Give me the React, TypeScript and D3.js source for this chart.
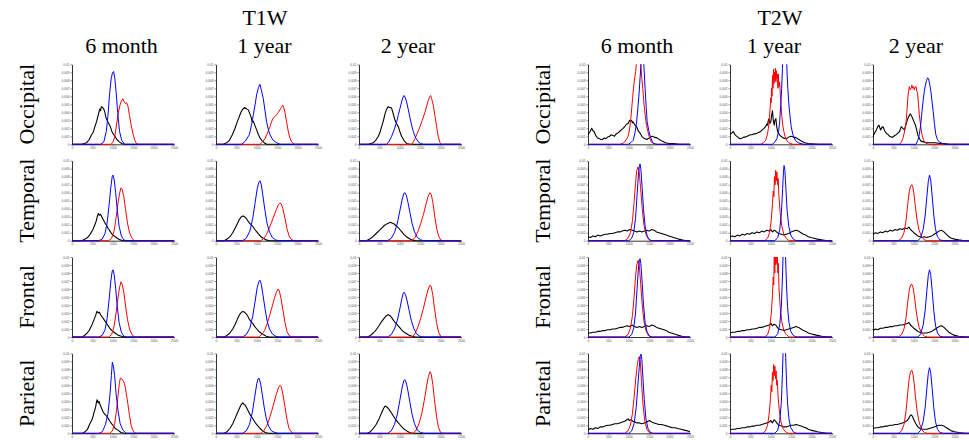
import React, { useEffect, useRef } from "react";
import * as d3 from "d3";

type Pt = [number, number];
type Panel = { black: Pt[]; blue: Pt[]; red: Pt[] };

const modalities = ["T1W", "T2W"];
const ages = ["6 month", "1 year", "2 year"];
const regions = ["Occipital", "Temporal", "Frontal", "Parietal"];
const xTicks = [0, 500, 1000, 1500, 2000, 2500];
const yTicks = [0, 0.001, 0.002, 0.003, 0.004, 0.005, 0.006, 0.007, 0.008, 0.009, 0.01];

// intensity, density x 1e4
const t1Occ6m: Panel = {
  black: [[0,0],[230,0],[300,1],[360,2],[420,6],[480,12],[520,15],[560,22],[600,28],[640,36],[680,44],[700,42],[720,47],[750,46],[780,44],[800,41],[830,34],[850,31],[880,28],[910,25],[940,22],[970,17],[1010,13],[1050,10],[1100,6],[1160,3],[1220,1],[1290,0],[2500,0]],
  blue: [[0,0],[700,0],[780,3],[840,16],[880,35],[920,62],[960,82],[990,89],[1020,91],[1050,82],[1080,66],[1120,40],[1165,16],[1220,5],[1290,0],[2500,0]],
  red: [[0,0],[950,0],[1000,2],[1050,10],[1090,24],[1130,38],[1170,48],[1210,54],[1245,57],[1280,53],[1310,51],[1340,52],[1370,48],[1410,36],[1450,24],[1500,12],[1540,5],[1580,1],[1620,0],[2500,0]],
};
const t1Occ1y: Panel = {
  black: [[0,0],[180,0],[260,2],[330,5],[400,12],[466,20],[520,28],[560,33],[588,37],[620,41],[660,44],[700,46],[730,45],[760,44],[792,43],[830,38],[860,34],[890,28],[915,29],[950,24],[996,18],[1040,12],[1080,8],[1119,5],[1180,2],[1241,0],[2500,0]],
  blue: [[0,0],[629,0],[720,4],[817,12],[870,24],[915,37],[960,50],[996,62],[1040,71],[1078,75],[1110,68],[1160,57],[1200,42],[1241,28],[1280,19],[1323,12],[1400,5],[1486,2],[1568,0],[2500,0]],
  red: [[0,0],[1078,0],[1140,3],[1200,7],[1260,14],[1323,22],[1360,28],[1405,33],[1450,35],[1486,37],[1530,40],[1568,43],[1600,46],[1633,49],[1660,46],[1690,40],[1730,28],[1772,16],[1810,8],[1854,3],[1900,1],[1935,0],[2500,0]],
};
const t1Occ2y: Panel = {
  black: [[0,0],[229,0],[290,1],[351,2],[410,5],[474,10],[515,15],[555,22],[600,30],[637,38],[670,43],[700,46],[719,47],[750,46],[780,46],[800,45],[840,38],[882,30],[920,26],[964,22],[1000,16],[1045,10],[1100,5],[1168,1],[1250,0],[2500,0]],
  blue: [[0,0],[678,0],[740,4],[800,10],[860,18],[923,28],[965,37],[1005,45],[1050,54],[1080,59],[1103,61],[1130,59],[1168,53],[1210,43],[1250,33],[1290,24],[1331,16],[1390,8],[1454,3],[1510,1],[1576,0],[2500,0]],
  red: [[0,0],[1290,0],[1330,3],[1372,7],[1430,14],[1495,22],[1550,30],[1617,40],[1660,48],[1699,55],[1730,59],[1756,61],[1780,57],[1821,49],[1860,36],[1903,22],[1940,10],[1985,2],[2025,0],[2500,0]],
};
const t1Tem6m: Panel = {
  black: [[0,0],[250,0],[320,2],[380,4],[430,7],[480,11],[520,15],[560,20],[590,24],[620,30],[645,34],[670,32],[700,33],[730,30],[770,26],[810,22],[850,19],[890,15],[930,12],[970,9],[1010,7],[1060,5],[1110,3],[1180,1],[1260,0],[2500,0]],
  blue: [[0,0],[650,0],[740,2],[810,9],[860,22],[910,45],[950,66],[985,80],[1005,82],[1035,76],[1070,60],[1110,38],[1155,18],[1210,6],[1270,1],[1330,0],[2500,0]],
  red: [[0,0],[900,0],[970,3],[1030,12],[1080,28],[1130,48],[1170,60],[1200,66],[1230,64],[1270,55],[1310,40],[1360,22],[1410,10],[1470,3],[1530,0],[2500,0]],
};
const t1Tem1y: Panel = {
  black: [[0,0],[200,0],[270,2],[340,5],[410,10],[470,16],[530,22],[580,27],[620,30],[660,31],[700,30],[740,28],[780,25],[820,22],[860,20],[900,18],[950,14],[1000,11],[1050,8],[1100,5],[1160,3],[1230,1],[1300,0],[2500,0]],
  blue: [[0,0],[650,0],[740,3],[830,12],[900,28],[960,48],[1010,65],[1050,73],[1078,75],[1110,70],[1150,56],[1200,38],[1250,22],[1310,11],[1380,4],[1460,1],[1540,0],[2500,0]],
  red: [[0,0],[1100,0],[1170,3],[1240,8],[1300,15],[1360,23],[1420,31],[1480,39],[1530,45],[1568,47],[1600,46],[1640,40],[1690,28],[1740,15],[1790,6],[1840,2],[1900,0],[2500,0]],
};
const t1Tem2y: Panel = {
  black: [[0,0],[180,0],[260,2],[340,5],[420,9],[500,13],[560,16],[620,19],[680,21],[730,22],[770,23],[810,22],[860,21],[900,19],[950,17],[1000,14],[1050,11],[1100,8],[1160,5],[1220,3],[1290,1],[1380,0],[2500,0]],
  blue: [[0,0],[700,0],[790,3],[870,10],[940,22],[1000,37],[1060,52],[1100,59],[1127,60],[1160,57],[1200,48],[1250,35],[1300,22],[1360,11],[1430,4],[1510,1],[1590,0],[2500,0]],
  red: [[0,0],[1300,0],[1370,4],[1440,11],[1510,21],[1580,33],[1640,45],[1690,55],[1740,60],[1770,58],[1810,48],[1850,33],[1900,16],[1950,6],[2000,1],[2050,0],[2500,0]],
};
const t1Fro6m: Panel = {
  black: [[0,0],[240,0],[310,2],[370,5],[420,8],[470,13],[510,18],[550,23],[580,27],[610,32],[640,30],[670,31],[700,28],[740,25],[780,22],[820,19],[860,16],[900,13],[940,10],[980,8],[1030,6],[1080,4],[1140,2],[1210,1],[1280,0],[2500,0]],
  blue: [[0,0],[650,0],[740,2],[810,9],[860,23],[910,47],[950,69],[985,82],[1005,84],[1035,78],[1070,61],[1110,38],[1155,18],[1210,6],[1270,1],[1330,0],[2500,0]],
  red: [[0,0],[900,0],[970,3],[1030,13],[1080,30],[1130,50],[1170,63],[1200,69],[1230,66],[1270,56],[1310,40],[1360,22],[1410,10],[1470,3],[1530,0],[2500,0]],
};
const t1Fro1y: Panel = {
  black: [[0,0],[200,0],[270,2],[340,5],[410,10],[470,16],[530,23],[580,28],[620,31],[660,32],[700,31],[740,29],[780,26],[820,22],[860,19],[900,17],[950,13],[1000,10],[1050,7],[1100,5],[1160,3],[1230,1],[1300,0],[2500,0]],
  blue: [[0,0],[650,0],[740,3],[830,11],[900,26],[960,45],[1010,62],[1050,69],[1078,71],[1110,66],[1150,53],[1200,36],[1250,21],[1310,10],[1380,4],[1460,1],[1540,0],[2500,0]],
  red: [[0,0],[1050,0],[1120,3],[1190,8],[1250,16],[1310,26],[1370,37],[1430,48],[1480,56],[1520,60],[1550,58],[1590,49],[1640,34],[1690,18],[1740,7],[1790,2],[1850,0],[2500,0]],
};
const t1Fro2y: Panel = {
  black: [[0,0],[200,0],[280,2],[350,5],[420,9],[490,14],[550,19],[610,23],[660,26],[710,28],[750,27],[790,25],[830,22],[870,19],[910,17],[960,14],[1010,11],[1060,8],[1110,6],[1170,4],[1230,2],[1300,1],[1380,0],[2500,0]],
  blue: [[0,0],[700,0],[790,3],[870,10],[940,21],[1000,35],[1050,48],[1080,54],[1103,56],[1140,53],[1180,45],[1230,33],[1280,21],[1340,11],[1410,4],[1490,1],[1570,0],[2500,0]],
  red: [[0,0],[1300,0],[1370,4],[1440,12],[1510,23],[1580,36],[1640,49],[1690,59],[1740,65],[1770,63],[1810,52],[1850,36],[1900,18],[1950,6],[2000,1],[2050,0],[2500,0]],
};
const t1Par6m: Panel = {
  black: [[0,0],[260,0],[320,2],[380,5],[437,12],[480,16],[510,20],[540,26],[559,29],[580,33],[600,39],[615,42],[640,38],[660,40],[680,37],[720,32],[761,27],[800,24],[840,22],[883,19],[930,15],[970,12],[1004,10],[1060,6],[1126,4],[1200,1],[1280,0],[2500,0]],
  blue: [[0,0],[650,0],[720,1],[761,4],[820,11],[883,25],[930,48],[965,72],[989,89],[1015,84],[1045,72],[1080,50],[1126,29],[1180,12],[1248,4],[1329,0],[2500,0]],
  red: [[0,0],[924,0],[990,3],[1045,12],[1090,28],[1126,46],[1160,62],[1183,69],[1220,68],[1260,65],[1288,62],[1330,50],[1369,37],[1410,22],[1450,10],[1490,4],[1531,1],[1580,0],[2500,0]],
};
const t1Par1y: Panel = {
  black: [[0,0],[200,0],[270,2],[340,6],[410,12],[470,19],[530,26],[580,32],[620,36],[660,38],[690,36],[720,35],[760,31],[800,27],[840,23],[880,20],[930,16],[980,12],[1030,9],[1080,6],[1140,3],[1210,1],[1290,0],[2500,0]],
  blue: [[0,0],[650,0],[740,3],[820,11],[890,26],[950,46],[1000,62],[1030,68],[1054,69],[1090,63],[1130,50],[1180,33],[1230,19],[1290,9],[1360,3],[1440,1],[1520,0],[2500,0]],
  red: [[0,0],[1100,0],[1170,3],[1240,9],[1300,17],[1360,27],[1420,38],[1480,49],[1530,57],[1568,60],[1600,58],[1640,49],[1690,33],[1740,17],[1790,6],[1840,2],[1900,0],[2500,0]],
};
const t1Par2y: Panel = {
  black: [[0,0],[200,0],[280,2],[350,6],[420,11],[490,18],[550,25],[600,31],[640,34],[680,33],[720,31],[760,28],[800,25],[850,21],[900,17],[950,14],[1000,11],[1050,8],[1110,5],[1170,3],[1240,1],[1320,0],[2500,0]],
  blue: [[0,0],[700,0],[790,3],[870,11],[940,24],[1000,41],[1060,58],[1100,66],[1127,67],[1160,63],[1200,53],[1250,38],[1300,24],[1360,12],[1430,4],[1510,1],[1590,0],[2500,0]],
  red: [[0,0],[1330,0],[1400,4],[1470,12],[1540,25],[1600,41],[1650,57],[1700,71],[1740,77],[1770,74],[1810,61],[1850,42],[1900,21],[1950,7],[2000,1],[2050,0],[2500,0]],
};

const t2Occ6m: Panel = {
  black: [[0,12],[50,16],[92,20],[120,17],[150,16],[190,11],[233,8],[280,7],[320,6],[358,6],[400,8],[440,7],[483,9],[530,10],[567,12],[610,11],[650,10],[690,13],[733,14],[775,16],[817,18],[860,20],[900,22],[940,25],[983,26],[1020,30],[1050,29],[1067,30],[1090,27],[1108,28],[1150,24],[1192,22],[1230,17],[1275,14],[1320,10],[1358,8],[1400,7],[1442,6],[1500,8],[1567,10],[1620,9],[1692,8],[1750,6],[1817,4],[1900,2],[1983,1],[2100,1],[2233,0],[2500,0]],
  blue: [[0,0],[983,0],[1050,2],[1108,5],[1150,14],[1192,28],[1220,44],[1250,62],[1275,82],[1300,100],[1330,125],[1358,110],[1380,88],[1400,70],[1425,48],[1450,28],[1490,17],[1525,10],[1570,4],[1608,1],[1692,0],[2500,0]],
  red: [[0,0],[775,0],[850,1],[900,3],[950,7],[983,10],[1015,18],[1042,28],[1070,44],[1092,57],[1115,70],[1133,78],[1150,85],[1167,91],[1185,100],[1208,112],[1240,118],[1270,110],[1300,95],[1320,82],[1342,70],[1370,52],[1400,37],[1430,25],[1467,16],[1510,8],[1550,3],[1600,1],[1650,0],[2500,0]],
};
const t2Occ1y: Panel = {
  black: [[0,12],[40,14],[83,16],[120,12],[167,10],[210,8],[250,7],[300,8],[340,9],[375,9],[420,10],[460,11],[500,12],[540,12],[580,13],[625,13],[670,14],[710,15],[750,16],[790,18],[833,20],[870,22],[900,25],[917,24],[940,30],[958,32],[975,26],[1000,28],[1020,36],[1042,42],[1060,30],[1083,24],[1100,30],[1125,32],[1145,22],[1167,16],[1210,12],[1250,10],[1300,8],[1375,7],[1440,9],[1500,10],[1560,9],[1625,8],[1690,6],[1750,4],[1830,2],[1917,1],[2167,0],[2500,0]],
  blue: [[0,0],[1042,0],[1100,3],[1150,7],[1190,16],[1217,28],[1245,50],[1267,70],[1285,95],[1300,115],[1340,130],[1383,112],[1400,88],[1417,70],[1440,52],[1467,37],[1500,22],[1542,12],[1600,5],[1667,2],[1792,0],[2500,0]],
  red: [[0,0],[750,0],[820,2],[875,5],[915,12],[942,20],[965,32],[983,45],[1000,58],[1010,52],[1017,70],[1030,60],[1042,86],[1055,70],[1067,94],[1080,76],[1092,90],[1100,80],[1112,95],[1125,78],[1137,92],[1150,82],[1163,88],[1175,70],[1183,88],[1200,72],[1217,78],[1235,62],[1250,49],[1270,35],[1292,24],[1320,16],[1350,10],[1390,5],[1433,2],[1542,0],[2500,0]],
};
const t2Occ2y: Panel = {
  black: [[0,10],[40,14],[82,18],[115,22],[147,24],[170,20],[188,18],[215,21],[245,22],[285,17],[326,14],[370,12],[407,10],[450,9],[488,9],[530,11],[569,12],[610,14],[651,16],[670,19],[691,22],[730,20],[772,18],[810,25],[853,32],[880,35],[910,38],[940,36],[975,32],[1005,28],[1040,24],[1070,18],[1096,12],[1140,7],[1177,4],[1240,3],[1300,2],[1380,2],[1462,2],[1540,2],[1624,1],[1750,1],[1867,0],[2500,0]],
  blue: [[0,0],[1054,0],[1100,5],[1135,12],[1170,25],[1200,41],[1230,55],[1257,66],[1285,74],[1313,80],[1340,83],[1362,82],[1390,75],[1419,66],[1445,54],[1475,41],[1505,26],[1540,12],[1580,6],[1621,3],[1700,1],[1783,0],[2500,0]],
  red: [[0,0],[649,0],[700,3],[730,7],[770,15],[811,28],[830,40],[852,57],[870,66],[892,72],[912,68],[933,70],[953,74],[973,70],[990,72],[1014,68],[1034,72],[1054,72],[1075,66],[1094,64],[1115,50],[1135,37],[1165,24],[1200,12],[1240,5],[1280,2],[1378,0],[2500,0]],
};
const t2Tem6m: Panel = {
  black: [[0,5],[60,4],[120,6],[180,5],[240,7],[300,6],[360,7],[420,8],[480,8],[540,9],[600,9],[660,10],[720,11],[780,11],[840,12],[900,13],[960,12],[1020,14],[1080,13],[1140,12],[1200,11],[1260,12],[1320,11],[1380,12],[1440,13],[1500,12],[1560,14],[1620,13],[1680,11],[1740,10],[1800,9],[1860,8],[1920,7],[1980,6],[2040,5],[2100,4],[2160,3],[2220,2],[2300,1],[2400,0],[2500,0]],
  blue: [[0,0],[1000,0],[1070,3],[1120,10],[1165,28],[1200,55],[1235,82],[1260,94],[1275,96],[1295,90],[1325,68],[1360,40],[1400,18],[1450,6],[1510,1],[1580,0],[2500,0]],
  red: [[0,0],[900,0],[980,3],[1040,10],[1090,25],[1130,48],[1165,72],[1195,88],[1225,92],[1255,86],[1290,65],[1330,40],[1370,20],[1420,8],[1480,2],[1540,0],[2500,0]],
};
const t2Tem1y: Panel = {
  black: [[0,5],[60,6],[120,5],[180,7],[240,6],[300,8],[360,7],[420,9],[480,8],[540,10],[600,9],[660,11],[720,10],[780,12],[840,11],[900,13],[960,12],[1000,14],[1040,11],[1080,13],[1120,12],[1160,10],[1200,9],[1260,8],[1320,7],[1380,8],[1440,9],[1500,11],[1560,12],[1620,13],[1680,12],[1740,10],[1800,8],[1860,7],[1920,5],[1980,4],[2060,3],[2140,2],[2250,1],[2380,0],[2500,0]],
  blue: [[0,0],[1100,0],[1170,4],[1220,14],[1260,35],[1290,65],[1310,86],[1325,94],[1345,88],[1370,65],[1400,38],[1440,18],[1490,7],[1550,2],[1620,0],[2500,0]],
  red: [[0,0],[850,0],[920,3],[970,10],[1010,25],[1040,45],[1060,62],[1075,55],[1090,80],[1105,70],[1120,88],[1135,75],[1150,86],[1165,70],[1180,78],[1200,55],[1230,35],[1270,18],[1320,8],[1380,3],[1450,0],[2500,0]],
};
const t2Tem2y: Panel = {
  black: [[0,8],[60,10],[120,9],[180,11],[240,10],[300,12],[360,11],[420,13],[480,12],[540,14],[600,13],[660,15],[720,14],[780,16],[840,15],[880,17],[920,14],[960,12],[1000,10],[1050,8],[1100,6],[1150,5],[1200,4],[1260,5],[1320,4],[1380,5],[1440,6],[1500,8],[1560,10],[1620,12],[1680,13],[1740,11],[1800,8],[1860,5],[1920,3],[2000,2],[2100,1],[2250,0],[2500,0]],
  blue: [[0,0],[1100,0],[1170,4],[1230,14],[1280,32],[1320,55],[1355,74],[1385,82],[1415,76],[1450,56],[1490,32],[1530,15],[1580,5],[1640,1],[1720,0],[2500,0]],
  red: [[0,0],[620,0],[700,3],[760,10],[810,25],[850,45],[890,62],[920,68],[950,70],[980,66],[1010,56],[1040,42],[1080,26],[1130,13],[1190,5],[1260,1],[1330,0],[2500,0]],
};
const t2Fro6m: Panel = {
  black: [[0,5],[60,5],[120,6],[180,6],[240,7],[300,7],[360,8],[420,8],[480,9],[540,9],[600,10],[660,10],[720,11],[780,12],[840,12],[900,13],[960,14],[1020,13],[1080,15],[1140,13],[1200,12],[1260,13],[1320,12],[1380,13],[1440,14],[1500,13],[1560,15],[1620,14],[1680,12],[1740,11],[1800,10],[1860,9],[1920,8],[1980,6],[2040,5],[2100,4],[2160,3],[2220,2],[2300,1],[2400,0],[2500,0]],
  blue: [[0,0],[1000,0],[1070,3],[1120,11],[1165,30],[1200,58],[1235,85],[1260,96],[1275,98],[1295,92],[1325,70],[1360,41],[1400,18],[1450,6],[1510,1],[1580,0],[2500,0]],
  red: [[0,0],[900,0],[980,3],[1040,11],[1090,27],[1130,50],[1165,75],[1195,90],[1230,96],[1260,88],[1290,67],[1330,40],[1370,20],[1420,8],[1480,2],[1540,0],[2500,0]],
};
const t2Fro1y: Panel = {
  black: [[0,5],[60,6],[120,6],[180,7],[240,7],[300,8],[360,8],[420,9],[480,9],[540,10],[600,10],[660,11],[720,12],[780,12],[840,13],[900,14],[960,15],[1000,17],[1040,14],[1080,16],[1120,15],[1160,12],[1200,10],[1260,9],[1320,8],[1380,9],[1440,10],[1500,11],[1560,12],[1620,13],[1680,12],[1740,10],[1800,8],[1860,7],[1920,5],[1980,4],[2060,3],[2140,2],[2250,1],[2380,0],[2500,0]],
  blue: [[0,0],[1100,0],[1170,4],[1220,16],[1260,40],[1285,75],[1300,100],[1320,125],[1345,118],[1365,95],[1385,65],[1410,38],[1445,18],[1490,7],[1550,2],[1620,0],[2500,0]],
  red: [[0,0],[850,0],[920,3],[970,11],[1010,28],[1040,52],[1060,75],[1072,65],[1085,100],[1098,80],[1110,115],[1122,90],[1135,120],[1148,92],[1160,108],[1172,80],[1185,92],[1200,62],[1230,38],[1270,19],[1320,8],[1380,3],[1450,0],[2500,0]],
};
const t2Fro2y: Panel = {
  black: [[0,8],[60,10],[120,9],[180,11],[240,11],[300,12],[360,12],[420,13],[480,13],[540,14],[600,14],[660,15],[720,15],[780,16],[840,17],[880,18],[920,15],[960,13],[1000,11],[1050,9],[1100,7],[1150,6],[1200,5],[1260,5],[1320,5],[1380,6],[1440,7],[1500,9],[1560,11],[1620,13],[1680,14],[1740,12],[1800,9],[1860,6],[1920,4],[2000,2],[2100,1],[2250,0],[2500,0]],
  blue: [[0,0],[1100,0],[1170,4],[1230,15],[1280,34],[1320,58],[1355,77],[1385,84],[1415,78],[1450,58],[1490,33],[1530,15],[1580,5],[1640,1],[1720,0],[2500,0]],
  red: [[0,0],[620,0],[700,3],[760,10],[810,24],[850,43],[890,59],[920,65],[950,66],[980,62],[1010,53],[1040,40],[1080,25],[1130,12],[1190,5],[1260,1],[1330,0],[2500,0]],
};
const t2Par6m: Panel = {
  black: [[0,4],[60,6],[120,5],[180,7],[240,6],[300,8],[360,8],[420,9],[480,10],[540,10],[600,11],[660,12],[720,12],[780,13],[840,14],[900,15],[950,17],[983,18],[1010,16],[1050,17],[1100,15],[1150,14],[1200,13],[1258,13],[1320,12],[1380,13],[1440,14],[1508,16],[1560,14],[1620,13],[1680,12],[1740,11],[1800,11],[1870,10],[1940,9],[2000,8],[2070,7],[2133,7],[2200,6],[2280,5],[2360,4],[2440,3],[2500,2]],
  blue: [[0,0],[1000,0],[1070,3],[1130,12],[1180,32],[1220,58],[1255,82],[1280,96],[1300,99],[1320,92],[1345,70],[1380,42],[1420,18],[1470,6],[1530,1],[1600,0],[2500,0]],
  red: [[0,0],[900,0],[980,3],[1040,10],[1090,25],[1130,45],[1170,68],[1200,82],[1230,92],[1258,96],[1285,88],[1310,65],[1345,38],[1390,16],[1440,5],[1500,1],[1560,0],[2500,0]],
};
const t2Par1y: Panel = {
  black: [[0,4],[60,5],[120,5],[180,6],[240,6],[300,7],[360,7],[420,8],[480,8],[540,9],[600,9],[660,10],[720,10],[780,11],[840,12],[900,13],[960,14],[1000,16],[1040,13],[1080,17],[1120,15],[1160,12],[1200,10],[1260,9],[1320,8],[1380,8],[1440,9],[1500,10],[1560,10],[1620,11],[1680,10],[1740,9],[1800,8],[1860,7],[1920,5],[1980,4],[2060,3],[2140,2],[2250,1],[2380,0],[2500,0]],
  blue: [[0,0],[1100,0],[1170,4],[1220,16],[1260,40],[1285,75],[1300,100],[1320,125],[1345,118],[1365,95],[1385,65],[1410,38],[1445,18],[1490,7],[1550,2],[1620,0],[2500,0]],
  red: [[0,0],[800,0],[870,3],[920,10],[960,24],[990,42],[1010,60],[1025,52],[1040,76],[1055,66],[1070,86],[1085,72],[1100,84],[1115,68],[1130,78],[1145,60],[1160,66],[1180,45],[1210,28],[1250,14],[1300,6],[1360,2],[1430,0],[2500,0]],
};
const t2Par2y: Panel = {
  black: [[0,6],[60,7],[120,7],[180,8],[240,8],[300,9],[360,9],[420,10],[480,10],[540,11],[600,11],[660,12],[720,13],[780,14],[840,16],[880,19],[910,22],[940,23],[970,21],[1000,17],[1050,12],[1100,8],[1150,6],[1200,5],[1260,5],[1320,5],[1380,6],[1440,7],[1500,8],[1560,9],[1620,10],[1680,10],[1740,9],[1800,7],[1860,5],[1920,3],[2000,2],[2100,1],[2250,0],[2500,0]],
  blue: [[0,0],[1100,0],[1170,4],[1230,15],[1280,33],[1320,56],[1355,75],[1385,82],[1415,76],[1450,56],[1490,32],[1530,15],[1580,5],[1640,1],[1720,0],[2500,0]],
  red: [[0,0],[620,0],[700,3],[760,11],[810,28],[850,50],[890,70],[920,77],[950,79],[980,74],[1010,62],[1040,46],[1080,28],[1130,14],[1190,5],[1260,1],[1330,0],[2500,0]],
};

const grid: Panel[][] = [
  [t1Occ6m, t1Occ1y, t1Occ2y, t2Occ6m, t2Occ1y, t2Occ2y],
  [t1Tem6m, t1Tem1y, t1Tem2y, t2Tem6m, t2Tem1y, t2Tem2y],
  [t1Fro6m, t1Fro1y, t1Fro2y, t2Fro6m, t2Fro1y, t2Fro2y],
  [t1Par6m, t1Par1y, t1Par2y, t2Par6m, t2Par1y, t2Par2y],
];

const W = 969;
const H = 440;
const PW = 102;
const PH = 80;
const colX = [72, 216, 359, 588, 730, 873];
const rowTop = [64.3, 160.7, 257, 353.3];
const serif = "'Liberation Serif', 'Times New Roman', serif";

function Hist({ data, x0, y0, id }: { data: Panel; x0: number; y0: number; id: string }) {
  const xRef = useRef<SVGGElement>(null);
  const yRef = useRef<SVGGElement>(null);
  const x = d3.scaleLinear().domain([0, 2500]).range([x0, x0 + PW]);
  const y = d3.scaleLinear().domain([0, 0.01]).range([y0 + PH, y0]);

  useEffect(() => {
    const gx = d3.select(xRef.current!);
    gx.call(
      d3.axisBottom(x)
        .tickValues(xTicks.filter((t) => x(t) <= W - 6))
        .tickSize(1.5).tickSizeOuter(0).tickPadding(1)
        .tickFormat(d3.format("d") as any) as any
    );
    const gy = d3.select(yRef.current!);
    gy.call(
      d3.axisLeft(y).tickValues(yTicks).tickSize(1.5).tickSizeOuter(0).tickPadding(1)
        .tickFormat((d: any) => (d === 0 ? "0" : String(+(+d).toFixed(3)))) as any
    );
    [gx, gy].forEach((g) => {
      g.selectAll("text").attr("font-size", 3.2).attr("fill", "#555").attr("font-family", "Arial, sans-serif");
      g.selectAll("line").attr("stroke", "#444").attr("stroke-width", 0.6);
      g.select(".domain").attr("stroke", "#333").attr("stroke-width", 1);
    });
  });

  const line = d3.line<Pt>().x((d) => x(d[0])).y((d) => y(d[1] / 1e4));

  return (
    <g>
      <defs>
        <clipPath id={id}>
          <rect x={x0} y={y0} width={PW} height={PH + 3} />
        </clipPath>
      </defs>
      <g ref={yRef} transform={`translate(${x0},0)`} />
      <g ref={xRef} transform={`translate(0,${y0 + PH})`} />
      <g clipPath={`url(#${id})`} fill="none" strokeLinejoin="round">
        <path d={line(data.black) || ""} stroke="#000" strokeWidth={1.1} />
        <path d={line(data.red) || ""} stroke="#ff0000" strokeWidth={1} />
        <path d={line(data.blue) || ""} stroke="#0000ff" strokeWidth={1} />
      </g>
    </g>
  );
}

export default function App() {
  const groupCenter = [265, 780];
  const ageCenter = [121.5, 264.5, 408, 637, 774, 916];
  const rowLabelX = [34, 550];
  return (
    <svg width={W} height={H} style={{ position: "absolute", left: 0, top: 0, background: "#fff" }}>
      {modalities.map((m, i) => (
        <text key={m} x={groupCenter[i]} y={25} textAnchor="middle" fontFamily={serif} fontSize={22}>
          {m}
        </text>
      ))}
      {ageCenter.map((cx, i) => (
        <text key={i} x={cx} y={53} textAnchor="middle" fontFamily={serif} fontSize={22}>
          {ages[i % 3]}
        </text>
      ))}
      {rowLabelX.map((lx, g) =>
        regions.map((r, ri) => (
          <text
            key={`${g}-${r}`}
            transform={`translate(${lx},${rowTop[ri] + PH / 2}) rotate(-90)`}
            textAnchor="middle"
            fontFamily={serif}
            fontSize={22}
          >
            {r}
          </text>
        ))
      )}
      {grid.map((row, ri) =>
        row.map((p, ci) => (
          <Hist key={`${ri}-${ci}`} data={p} x0={colX[ci]} y0={rowTop[ri]} id={`clip-${ri}-${ci}`} />
        ))
      )}
    </svg>
  );
}
